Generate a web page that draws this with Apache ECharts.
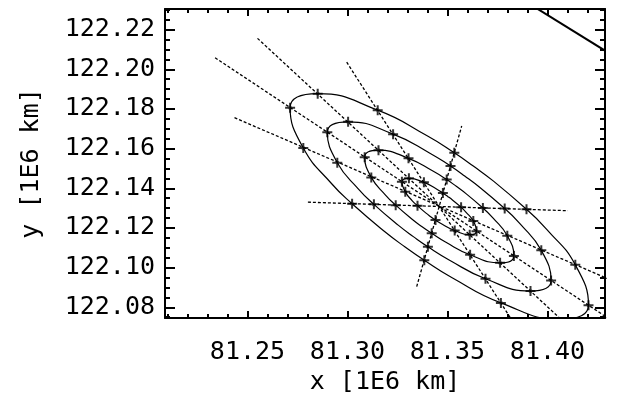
<!DOCTYPE html>
<html>
<head>
<meta charset="utf-8">
<script src="https://cdn.jsdelivr.net/npm/echarts@6/dist/echarts.min.js"></script>
<style>
html, body { margin: 0; padding: 0; background: #fff; }
#chart { width: 619px; height: 401px; }
</style>
</head>
<body>
<div id="chart"></div>
<script>
// plot window and ticks
const xRange = [81.20875, 81.42875];
const yRange = [122.0746, 122.2304];
const xMajor = [81.25, 81.30, 81.35, 81.40];
const xMinor = [81.21, 81.22, 81.23, 81.24, 81.26, 81.27, 81.28, 81.29, 81.31, 81.32, 81.33, 81.34,
  81.36, 81.37, 81.38, 81.39, 81.41, 81.42];
const yMajor = [122.08, 122.10, 122.12, 122.14, 122.16, 122.18, 122.20, 122.22];
const yMinor = [122.075, 122.085, 122.09, 122.095, 122.105, 122.11, 122.115, 122.125, 122.13, 122.135,
  122.145, 122.15, 122.155, 122.165, 122.17, 122.175, 122.185, 122.19, 122.195, 122.205, 122.21,
  122.215, 122.225, 122.23];

// 1..4 sigma ellipses (outline points)
const ellipse1 = [[81.3568,122.1305],[81.3593,122.1279],[81.3629,122.1235],[81.3645,122.1184],[81.3611,122.1166],
  [81.3536,122.1187],[81.3474,122.1219],[81.3440,122.1240],[81.3416,122.1257],[81.3391,122.1276],
  [81.3350,122.1312],[81.3324,122.1337],[81.3289,122.1382],[81.3272,122.1433],[81.3307,122.1450],
  [81.3382,122.1430],[81.3443,122.1398],[81.3477,122.1376],[81.3501,122.1359],[81.3526,122.1340],[81.3568,122.1305]];
const ellipse2 = [[81.3677,122.1301],[81.3727,122.1251],[81.3799,122.1161],[81.3832,122.1059],[81.3763,122.1024],
  [81.3613,122.1065],[81.3490,122.1129],[81.3421,122.1173],[81.3373,122.1206],[81.3323,122.1244],
  [81.3241,122.1315],[81.3190,122.1366],[81.3119,122.1455],[81.3086,122.1557],[81.3155,122.1592],
  [81.3305,122.1551],[81.3427,122.1487],[81.3496,122.1444],[81.3544,122.1410],[81.3594,122.1372],[81.3677,122.1301]];
const ellipse3 = [[81.3786,122.1298],[81.3862,122.1222],[81.3969,122.1087],[81.4018,122.0935],[81.3915,122.0882],
  [81.3690,122.0944],[81.3506,122.1040],[81.3402,122.1105],[81.3331,122.1155],[81.3255,122.1213],
  [81.3132,122.1319],[81.3056,122.1395],[81.2949,122.1529],[81.2899,122.1682],[81.3003,122.1735],
  [81.3228,122.1673],[81.3412,122.1577],[81.3515,122.1512],[81.3586,122.1462],[81.3662,122.1404],[81.3786,122.1298]];
const ellipse4 = [[81.3895,122.1294],[81.3996,122.1193],[81.4139,122.1014],[81.4205,122.0810],[81.4067,122.0740],
  [81.3767,122.0822],[81.3521,122.0950],[81.3384,122.1037],[81.3288,122.1104],[81.3187,122.1181],
  [81.3023,122.1322],[81.2921,122.1423],[81.2779,122.1603],[81.2713,122.1806],[81.2851,122.1877],
  [81.3151,122.1794],[81.3396,122.1666],[81.3534,122.1579],[81.3629,122.1512],[81.3730,122.1436],[81.3895,122.1294]];

// dotted cuts through the centre
const cutA = [[81.2338,122.2058],[81.4578,122.0561]];
const cutB = [[81.2550,122.2156],[81.4371,122.0456]];
const cutC = [[81.2996,122.2036],[81.3921,122.0579]];
const cutD = [[81.3346,122.0904],[81.3571,122.1714]];
const cutE = [[81.2802,122.1330],[81.4102,122.1287]];
const cutF = [[81.2435,122.1756],[81.4479,122.0867]];

// crossings of the cuts with the ellipses
const marksA = [[81.3645,122.1184],[81.3272,122.1433],[81.3832,122.1059],[81.3086,122.1557],
  [81.4018,122.0935],[81.2899,122.1682],[81.4205,122.0810],[81.2713,122.1806]];
const marksB = [[81.3611,122.1166],[81.3307,122.1450],[81.3763,122.1024],[81.3155,122.1592],
  [81.3915,122.0882],[81.3003,122.1735],[81.2851,122.1877]];
const marksC = [[81.3536,122.1187],[81.3382,122.1430],[81.3613,122.1065],[81.3305,122.1551],
  [81.3690,122.0944],[81.3228,122.1673],[81.3767,122.0822],[81.3151,122.1794]];
const marksD = [[81.3477,122.1376],[81.3440,122.1240],[81.3496,122.1444],[81.3421,122.1173],
  [81.3515,122.1512],[81.3402,122.1105],[81.3534,122.1579],[81.3384,122.1037]];
const marksE = [[81.3568,122.1305],[81.3350,122.1312],[81.3677,122.1301],[81.3241,122.1315],
  [81.3786,122.1298],[81.3132,122.1319],[81.3895,122.1294],[81.3023,122.1322]];
const marksF = [[81.3629,122.1235],[81.3289,122.1382],[81.3799,122.1161],[81.3119,122.1455],
  [81.3969,122.1087],[81.2949,122.1529],[81.4139,122.1014],[81.2779,122.1603]];

// solid track in the upper right corner
const track = [[81.3916,122.2326],[81.4320,122.2074]];

const chart = echarts.init(document.getElementById('chart'));

const font = { fontFamily: 'DejaVu Sans Mono', fontSize: 25, color: '#000' };
const black = '#000';

function makeAxis(pos, range, ticks, len, main, extra) {
  return Object.assign({
    type: 'value',
    position: pos,
    min: range[0],
    max: range[1],
    axisLine: { show: main, onZero: false, lineStyle: { color: black, width: 2 } },
    axisTick: { show: true, inside: true, length: len, customValues: ticks, lineStyle: { color: black, width: 2 } },
    axisLabel: { show: false },
    splitLine: { show: false }
  }, extra || {});
}

const xAxes = [
  makeAxis('bottom', xRange, xMajor, 7, true, {
    axisLabel: Object.assign({ show: true, customValues: xMajor, margin: 22, formatter: v => v.toFixed(2) }, font),
    name: 'x [1E6 km]', nameLocation: 'middle', nameGap: 36, nameTextStyle: font
  }),
  makeAxis('bottom', xRange, xMinor, 4, false),
  makeAxis('top', xRange, xMajor, 7, true),
  makeAxis('top', xRange, xMinor, 4, false)
];
const yAxes = [
  makeAxis('left', yRange, yMajor, 10, true, {
    axisLabel: Object.assign({ show: true, customValues: yMajor, margin: 10, formatter: v => v.toFixed(2) }, font),
    name: 'y [1E6 km]', nameLocation: 'middle', nameGap: 121, nameTextStyle: font
  }),
  makeAxis('left', yRange, yMinor, 5, false),
  makeAxis('right', yRange, yMajor, 10, true),
  makeAxis('right', yRange, yMinor, 5, false)
];

function curve(data) {
  return { type: 'line', data: data, smooth: true, showSymbol: false, silent: true,
    lineStyle: { color: black, width: 1.2 } };
}
function cut(data) {
  return { type: 'line', data: data, showSymbol: false, silent: true,
    lineStyle: { color: black, width: 1.3, type: [3, 2] } };
}
function marks(data) {
  return { type: 'scatter', data: data, symbol: 'path://M5,0L5,10M0,5L10,5M3.6,3.6L6.4,6.4M6.4,3.6L3.6,6.4',
    symbolSize: 10, silent: true, z: 5,
    itemStyle: { color: 'rgba(0,0,0,0)', borderColor: black, borderWidth: 2 } };
}

chart.setOption({
  animation: false,
  grid: { left: 165, right: 14, top: 9, bottom: 83 },
  xAxis: xAxes,
  yAxis: yAxes,
  series: [
    curve(ellipse1), curve(ellipse2), curve(ellipse3), curve(ellipse4),
    cut(cutA), cut(cutB), cut(cutC), cut(cutD), cut(cutE), cut(cutF),
    { type: 'line', data: track, showSymbol: false, silent: true, lineStyle: { color: black, width: 2 } },
    marks(marksA), marks(marksB), marks(marksC), marks(marksD), marks(marksE), marks(marksF)
  ]
});
</script>
</body>
</html>
